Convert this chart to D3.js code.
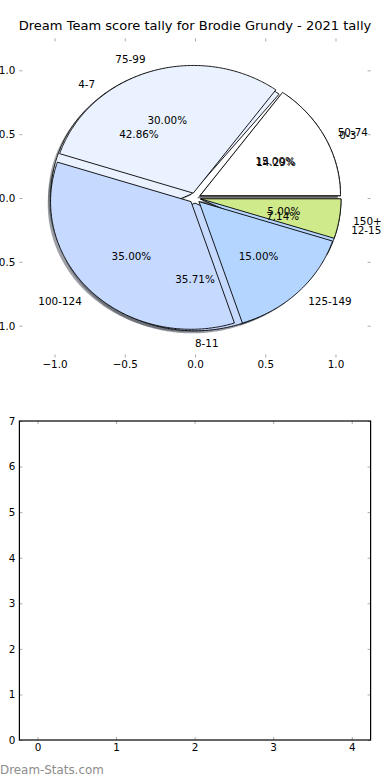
<!DOCTYPE html>
<html>
<head>
<meta charset="utf-8">
<script src="https://cdn.jsdelivr.net/npm/d3@7"></script>
<style>
  body { margin: 0; background: #fff; }
  text { font-family: "DejaVu Sans", sans-serif; fill: #000; }
</style>
</head>
<body>
<div id="chart"></div>
<script>
// data
const title = "Dream Team score tally for Brodie Grundy - 2021 tally"
const scoreLabels = ["50-74", "75-99", "100-124", "125-149", "150+"]
const scoreCounts = [3, 6, 7, 3, 1]
const tallyLabels = ["0-3", "4-7", "8-11", "12-15"]
const tallyCounts = [2, 6, 5, 1]
const pieColors = ["#ffffff", "#eaf2ff", "#c6d9ff", "#b4d5ff", "#cfea8b"]
const pieTicks = [-1, -0.5, 0, 0.5, 1]
const barXTicks = [0, 1, 2, 3, 4]
const barYTicks = [0, 1, 2, 3, 4, 5, 6, 7]

const W = 390, H = 780
const explode = 0.04
const fontSize = 10.4

const svg = d3.select("#chart").append("svg")
  .attr("width", W).attr("height", H)

// ---- top axes (pie) ----
const box = { left: 19.4, right: 370.6, top: 38.4, bottom: 357.6 }
const x = d3.scaleLinear().domain([-1.25, 1.25]).range([box.left, box.right])
const y = d3.scaleLinear().domain([-1.25, 1.25]).range([box.bottom, box.top])

svg.append("text")
  .attr("x", (box.left + box.right) / 2)
  .attr("y", box.top - 8)
  .attr("text-anchor", "middle")
  .style("font-size", "13.05px")
  .text(title)

// ticks, inside, no spines
function tickStyle(g) {
  g.selectAll(".domain").remove()
  g.selectAll(".tick line").attr("stroke", "#aaa")
  g.selectAll(".tick text").style("font-size", fontSize + "px")
    .style("font-family", "DejaVu Sans")
}
const fmt = d => d3.format(".1f")(d).replace("-", "\u2212")

svg.append("g").attr("transform", `translate(0,${box.bottom})`)
  .call(d3.axisBottom(x).tickValues(pieTicks).tickFormat(fmt).tickSizeInner(-3).tickSizeOuter(0).tickPadding(3))
  .call(tickStyle)
svg.append("g").attr("transform", `translate(0,${box.top})`)
  .call(d3.axisTop(x).tickValues(pieTicks).tickFormat("").tickSizeInner(-3).tickSizeOuter(0))
  .call(tickStyle)
svg.append("g").attr("transform", `translate(${box.left},0)`)
  .call(d3.axisLeft(y).tickValues(pieTicks).tickFormat(fmt).tickSizeInner(-3).tickSizeOuter(0).tickPadding(4))
  .call(tickStyle)
svg.append("g").attr("transform", `translate(${box.right},0)`)
  .call(d3.axisRight(y).tickValues(pieTicks).tickFormat("").tickSizeInner(-3).tickSizeOuter(0))
  .call(tickStyle)

// pie layout: d3 angles used as matplotlib angles (counter-clockwise from 3 o'clock)
const pie = d3.pie().sort(null).value(d => d)
const line = d3.line().x(p => x(p[0])).y(p => y(p[1]))

function wedgePoints(a0, a1, cx, cy) {
  const pts = [[cx, cy]]
  const n = Math.max(4, Math.ceil((a1 - a0) / 0.01))
  for (let i = 0; i <= n; i++) {
    const a = a0 + (a1 - a0) * i / n
    pts.push([cx + Math.cos(a), cy + Math.sin(a)])
  }
  pts.push([cx, cy])
  return pts
}

function layout(counts, labels) {
  const total = d3.sum(counts)
  return pie(counts).map((d, i) => {
    const mid = (d.startAngle + d.endAngle) / 2
    const cx = explode * Math.cos(mid), cy = explode * Math.sin(mid)
    return {
      label: labels[i], pct: d.data / total * 100, color: pieColors[i],
      a0: d.startAngle, a1: d.endAngle, mid, cx, cy
    }
  })
}

const tally = layout(tallyCounts, tallyLabels)
const score = layout(scoreCounts, scoreLabels)
const all = tally.concat(score)

const gPie = svg.append("g")

// shadows below every wedge
gPie.selectAll("path.shadow").data(all).enter().append("path")
  .attr("class", "shadow")
  .attr("d", d => line(wedgePoints(d.a0, d.a1, d.cx - 0.02, d.cy - 0.02)))
  .attr("fill", d => {
    const c = d3.rgb(d.color)
    return d3.rgb(c.r * 0.3, c.g * 0.3, c.b * 0.3)
  })
  .attr("fill-opacity", 0.5)

// wedges: tally first, score on top
gPie.selectAll("path.wedge").data(all).enter().append("path")
  .attr("class", "wedge")
  .attr("d", d => line(wedgePoints(d.a0, d.a1, d.cx, d.cy)))
  .attr("fill", d => d.color)
  .attr("stroke", "#000")
  .attr("stroke-width", 0.9)
  .attr("stroke-linejoin", "miter")

// labels
gPie.selectAll("text.lab").data(all).enter().append("text")
  .attr("class", "lab")
  .attr("x", d => x(d.cx + 1.1 * Math.cos(d.mid)))
  .attr("y", d => y(d.cy + 1.1 * Math.sin(d.mid)))
  .attr("dy", "0.36em")
  .attr("text-anchor", d => (d.cx + 1.1 * Math.cos(d.mid)) > -1e-9 ? "start" : "end")
  .style("font-size", fontSize + "px")
  .text(d => d.label)

gPie.selectAll("text.pct").data(all).enter().append("text")
  .attr("class", "pct")
  .attr("x", d => x(d.cx + 0.6 * Math.cos(d.mid)))
  .attr("y", d => y(d.cy + 0.6 * Math.sin(d.mid)))
  .attr("dy", "0.36em")
  .attr("text-anchor", "middle")
  .style("font-size", fontSize + "px")
  .text(d => d3.format(".2f")(d.pct) + "%")

// ---- bottom axes (empty) ----
const box2 = { left: 19.4, right: 370.6, top: 421, bottom: 740 }
const x2 = d3.scaleLinear().domain([-0.23, 4.24]).range([box2.left, box2.right])
const y2 = d3.scaleLinear().domain([0, 7]).range([box2.bottom, box2.top])

svg.append("g").attr("transform", `translate(0,${box2.bottom})`)
  .call(d3.axisBottom(x2).tickValues(barXTicks).tickFormat(d3.format("d")).tickSizeInner(-3).tickSizeOuter(0).tickPadding(4))
  .call(tickStyle)
svg.append("g").attr("transform", `translate(0,${box2.top})`)
  .call(d3.axisTop(x2).tickValues(barXTicks).tickFormat("").tickSizeInner(-3).tickSizeOuter(0))
  .call(tickStyle)
svg.append("g").attr("transform", `translate(${box2.left},0)`)
  .call(d3.axisLeft(y2).tickValues(barYTicks).tickFormat(d3.format("d")).tickSizeInner(-3).tickSizeOuter(0).tickPadding(4))
  .call(tickStyle)
svg.append("g").attr("transform", `translate(${box2.right},0)`)
  .call(d3.axisRight(y2).tickValues(barYTicks).tickFormat("").tickSizeInner(-3).tickSizeOuter(0))
  .call(tickStyle)

svg.append("rect")
  .attr("x", box2.left).attr("y", box2.top)
  .attr("width", box2.right - box2.left).attr("height", box2.bottom - box2.top)
  .attr("fill", "none").attr("stroke", "#000").attr("stroke-width", 1.2)

// watermark
svg.append("text")
  .attr("x", 0).attr("y", 774)
  .style("font-size", "11.9px")
  .style("fill", "#8c8c8c")
  .text("Dream-Stats.com")
</script>
</body>
</html>
